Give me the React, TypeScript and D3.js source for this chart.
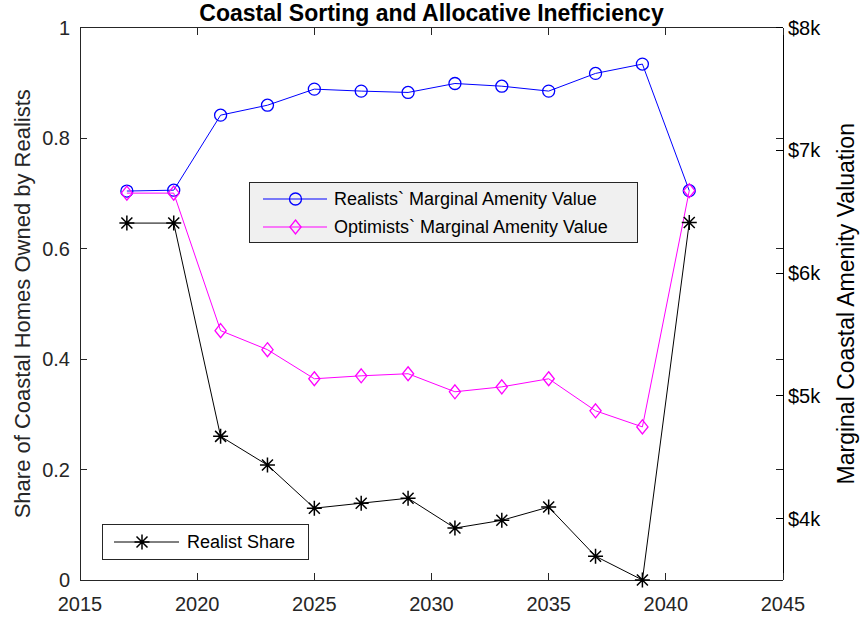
import React from "react";
import * as d3 from "d3";

const years = [2017, 2019, 2021, 2023, 2025, 2027, 2029, 2031, 2033, 2035, 2037, 2039, 2041];
const realistValue = [6668, 6675, 7286, 7367, 7498, 7482, 7471, 7544, 7522, 7482, 7626, 7702, 6671];
const optimistValue = [6651, 6651, 5531, 5376, 5139, 5163, 5180, 5033, 5073, 5139, 4878, 4747, 6671];
const realistShare = [0.646, 0.646, 0.26, 0.208, 0.13, 0.139, 0.148, 0.094, 0.108, 0.132, 0.043, 0.0, 0.647];

const xTicks = [2015, 2020, 2025, 2030, 2035, 2040, 2045];
const leftTicks = [0, 0.2, 0.4, 0.6, 0.8, 1];
const rightTicks = [4000, 5000, 6000, 7000, 8000];

const title = "Coastal Sorting and Allocative Inefficiency";
const leftLabel = "Share of Coastal Homes Owned by Realists";
const rightLabel = "Marginal Coastal Amenity Valuation";
const legendTop = ["Realists` Marginal Amenity Value", "Optimists` Marginal Amenity Value"];
const legendBottom = "Realist Share";

const W = 860, H = 621;
const L = 80, R = 783, T = 27.5, B = 580;
const FONT = "'Liberation Sans', Arial, Helvetica, sans-serif";
const AX = "#262626";

const x = d3.scaleLinear().domain([2015, 2045]).range([L, R]);
const yL = d3.scaleLinear().domain([0, 1]).range([B, T]);
const yR = d3.scaleLinear().domain([3500, 8000]).range([B, T]);

function Circle({ cx, cy }: { cx: number; cy: number }) {
  return <circle cx={cx} cy={cy} r={6} fill="none" stroke="#0000ff" strokeWidth={1.3} />;
}
function Diamond({ cx, cy }: { cx: number; cy: number }) {
  const s = 7;
  return (
    <path
      d={`M${cx},${cy - s}L${cx + s * 0.8},${cy}L${cx},${cy + s}L${cx - s * 0.8},${cy}Z`}
      fill="none"
      stroke="#ff00ff"
      strokeWidth={1.3}
    />
  );
}
function Star({ cx, cy }: { cx: number; cy: number }) {
  const s = 7.5, d = 5.5;
  return (
    <path
      d={`M${cx - s},${cy}L${cx + s},${cy}M${cx},${cy - s}L${cx},${cy + s}M${cx - d},${cy - d}L${cx + d},${cy + d}M${cx - d},${cy + d}L${cx + d},${cy - d}`}
      stroke="#000"
      strokeWidth={1.5}
      fill="none"
    />
  );
}

export default function App() {
  const lineR = d3.line<number>().x((_, i) => x(years[i])).y((v) => yR(v));
  const lineL = d3.line<number>().x((_, i) => x(years[i])).y((v) => yL(v));
  const tl = 7;

  return (
    <svg width={W} height={H} style={{ display: "block", position: "absolute", left: 0, top: 0, background: "#fff" }} fontFamily={FONT}>
      <rect x={0} y={0} width={W} height={H} fill="#fff" />
      {/* title */}
      <text x={(L + R) / 2} y={21} textAnchor="middle" fontWeight="bold" fontSize={23} fill="#000">
        {title}
      </text>

      {/* axes box */}
      <g stroke={AX} strokeWidth={1} fill="none" shapeRendering="crispEdges">
        <line x1={L} y1={B} x2={R} y2={B} />
        <line x1={L} y1={T} x2={R} y2={T} />
        <line x1={L} y1={T} x2={L} y2={B} />
        <line x1={R} y1={T} x2={R} y2={B} stroke="#000" />
        {xTicks.map((t) => (
          <g key={"xt" + t}>
            <line x1={x(t)} y1={B} x2={x(t)} y2={B - tl} />
            <line x1={x(t)} y1={T} x2={x(t)} y2={T + tl} />
          </g>
        ))}
        {leftTicks.map((t) => (
          <g key={"lt" + t}>
            <line x1={L} y1={yL(t)} x2={L + tl} y2={yL(t)} />
            <line x1={R} y1={yL(t)} x2={R - tl} y2={yL(t)} />
          </g>
        ))}
        {rightTicks.map((t) => (
          <line key={"rt" + t} x1={R} y1={yR(t)} x2={R - tl} y2={yR(t)} stroke="#000" />
        ))}
      </g>

      {/* tick labels */}
      <g fontSize={20} fill={AX}>
        {xTicks.map((t) => (
          <text key={"xl" + t} x={x(t)} y={B + 31} textAnchor="middle">
            {t}
          </text>
        ))}
        {leftTicks.map((t) => (
          <text key={"ll" + t} x={L - 10} y={yL(t)} dy="0.35em" textAnchor="end">
            {d3.format("~g")(t)}
          </text>
        ))}
        {rightTicks.map((t) => (
          <text key={"rl" + t} x={R + 5} y={yR(t)} dy="0.35em" textAnchor="start" fill="#000">
            {"$" + t / 1000 + "k"}
          </text>
        ))}
      </g>

      {/* axis labels */}
      <text transform={`translate(22,${(T + B) / 2}) rotate(-90)`} dy="0.35em" textAnchor="middle" fontSize={22} fill={AX}>
        {leftLabel}
      </text>
      <text transform={`translate(846,${(T + B) / 2}) rotate(-90)`} dy="0.35em" textAnchor="middle" fontSize={23} fill="#000">
        {rightLabel}
      </text>

      {/* series */}
      <path d={lineR(realistValue) || ""} fill="none" stroke="#0000ff" strokeWidth={1} />
      {realistValue.map((v, i) => (
        <Circle key={"c" + i} cx={x(years[i])} cy={yR(v)} />
      ))}
      <path d={lineR(optimistValue) || ""} fill="none" stroke="#ff00ff" strokeWidth={1} />
      {optimistValue.map((v, i) => (
        <Diamond key={"d" + i} cx={x(years[i])} cy={yR(v)} />
      ))}
      <path d={lineL(realistShare) || ""} fill="none" stroke="#000" strokeWidth={1} />
      {realistShare.map((v, i) => (
        <Star key={"s" + i} cx={x(years[i])} cy={yL(v)} />
      ))}

      {/* legend top */}
      <g>
        <rect x={249.5} y={182.5} width={388} height={60} fill="#f0f0f0" stroke={AX} strokeWidth={1} />
        <line x1={263} y1={199} x2={327} y2={199} stroke="#0000ff" />
        <Circle cx={295.5} cy={199} />
        <text x={334} y={199} dy="0.35em" fontSize={18} fill="#000">{legendTop[0]}</text>
        <line x1={263} y1={227} x2={327} y2={227} stroke="#ff00ff" />
        <Diamond cx={295.5} cy={227} />
        <text x={334} y={227} dy="0.35em" fontSize={18} fill="#000">{legendTop[1]}</text>
      </g>

      {/* legend bottom */}
      <g>
        <rect x={102.5} y={524.5} width={206} height={35} fill="#fff" stroke={AX} strokeWidth={1} />
        <line x1={114} y1={542} x2={179} y2={542} stroke="#000" />
        <Star cx={142} cy={542} />
        <text x={187} y={542} dy="0.35em" fontSize={18} fill="#000">{legendBottom}</text>
      </g>
    </svg>
  );
}
